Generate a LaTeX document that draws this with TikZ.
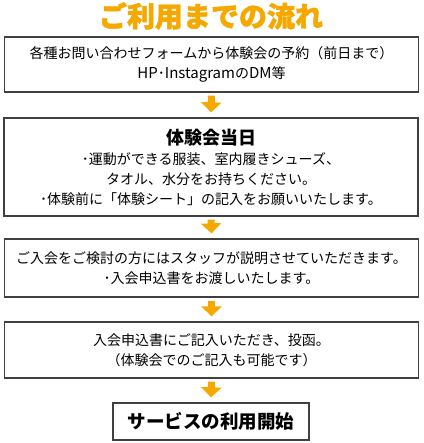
\documentclass[tikz,border=0pt]{standalone}
\usepackage{fontspec}
\setmainfont{Noto Sans CJK JP}
\newfontfamily\headfont[BoldFeatures={FakeBold=1.6}]{Noto Sans CJK JP}
\usetikzlibrary{arrows.meta}
\definecolor{floworange}{HTML}{F5A800}
\definecolor{boxgray}{HTML}{404040}

\begin{document}
\begin{tikzpicture}[
    x=1pt, y=-1pt,
    arrowstyle/.style={draw=floworange, line width=7pt,
        -{Triangle[width=20pt,length=10pt]}},
    flowbox/.style={rectangle, draw=boxgray, line width=1.3pt, minimum width=414pt,
        align=center, inner sep=0pt, font=\fontsize{14}{20}\selectfont},
    finalbox/.style={rectangle, draw=boxgray, line width=1.3pt, minimum width=196pt,
        minimum height=37pt, font=\bfseries\fontsize{18.5}{22}\selectfont},
    heading/.style={text=floworange, font=\headfont\bfseries\fontsize{28}{30}\selectfont}
]
\useasboundingbox (0,0) rectangle (423,443);

\node (Title) [heading] at (211,16) {ご利用までの流れ};

\node (Step01) [flowbox, minimum height=55pt] at (211.5,64.5)
  {各種お問い合わせフォームから体験会の予約（前日まで）\\
   {\fontsize{15}{20}\selectfont HP}･{\fontsize{15}{20}\selectfont Instagram}の{\fontsize{15}{20}\selectfont DM}等};
\node (Step02) [flowbox, minimum height=98pt] at (211,167)
  {{\bfseries\fontsize{18}{22}\selectfont 体験会当日}\\
   ･運動ができる服装、室内履きシューズ、\\
   タオル、水分をお持ちください。\\
   ･体験前に「体験シート」の記入をお願いいたします。};
\node (Step03) [flowbox, minimum height=58pt] at (211.5,268)
  {ご入会をご検討の方にはスタッフが説明させていただきます。\\
   ･入会申込書をお渡しいたします。};
\node (Step04) [flowbox, minimum height=56pt] at (211.5,350)
  {入会申込書にご記入いただき、投函。\\
   （体験会でのご記入も可能です）};
\node (Step05) [finalbox] at (211,421.5) {サービスの利用開始};

% arrows between the steps
\foreach \from/\to in {Step01/Step02, Step02/Step03, Step03/Step04, Step04/Step05}
  \draw [arrowstyle] ([yshift=-3pt]\from.south) -- ([yshift=5pt]\to.north);
\end{tikzpicture}
\end{document}
